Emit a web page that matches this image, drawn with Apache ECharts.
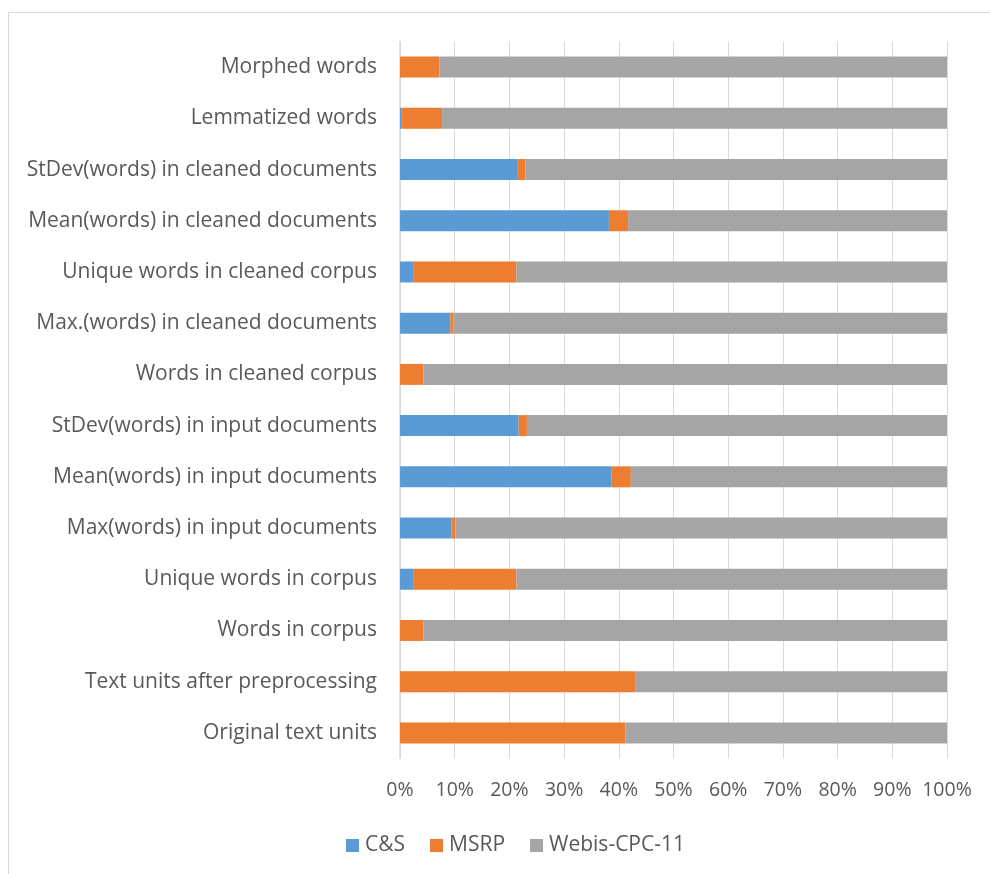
<!DOCTYPE html>
<html>
<head>
<meta charset="utf-8">
<script src="https://cdn.jsdelivr.net/npm/echarts@6/dist/echarts.min.js"></script>
<style>
html,body{margin:0;padding:0;background:#fff;}
#chart{width:990px;height:874px;}
</style>
</head>
<body>
<div id="chart"></div>
<script>
var categories = [
  "Original text units",
  "Text units after preprocessing",
  "Words in corpus",
  "Unique words in corpus",
  "Max(words) in input documents",
  "Mean(words) in input documents",
  "StDev(words) in input documents",
  "Words in cleaned corpus",
  "Max.(words) in cleaned documents",
  "Unique words in cleaned corpus",
  "Mean(words) in cleaned documents",
  "StDev(words) in cleaned documents",
  "Lemmatized words",
  "Morphed words"
];
var csValues    = [0,    0,    0,    2.4,  9.4,  38.7, 21.7, 0,    9.2,  2.4,  38.2, 21.4, 0.2,  0];
var msrpValues  = [41.2, 43.1, 4.3,  18.9, 0.7,  3.5,  1.5,  4.3,  0.6,  18.9, 3.5,  1.5,  7.5,  7.2];
var webisValues = [58.8, 56.9, 95.7, 78.7, 89.9, 57.8, 76.8, 95.7, 90.2, 78.7, 58.3, 77.1, 92.3, 92.8];
var seriesNames = ["C&S", "MSRP", "Webis-CPC-11"];
var xTicks = [0, 10, 20, 30, 40, 50, 60, 70, 80, 90, 100];

var colors = ["#5B9BD5", "#ED7D31", "#A5A5A5"];
var font = "'Open Sans', 'Noto Sans', sans-serif";
var chart = echarts.init(document.getElementById('chart'), null, {renderer: 'canvas'});

function mk(name, data, i) {
  return {
    name: name, type: 'bar', stack: 'total', data: data,
    barWidth: '41%',
    itemStyle: {color: colors[i]},
    emphasis: {disabled: true}
  };
}

chart.setOption({
  animation: false,
  color: colors,
  textStyle: {fontFamily: font},
  graphic: [{
    type: 'rect', silent: true, z: -10,
    shape: {x: 8.5, y: 12.5, width: 1100, height: 1000},
    style: {fill: '#fff', stroke: '#d9d9d9', lineWidth: 1}
  }],
  grid: {left: 400, right: 43, top: 41.5, bottom: 115.5, containLabel: false},
  legend: {
    data: seriesNames,
    left: 341, top: 830,
    icon: 'rect', itemWidth: 13, itemHeight: 13, itemGap: 25,
    textStyle: {fontFamily: font, fontSize: 21, color: '#595959', padding: [0, 0, 0, 1]}
  },
  xAxis: {
    type: 'value', min: xTicks[0], max: xTicks[xTicks.length - 1], interval: 10,
    axisLine: {show: false}, axisTick: {show: false},
    splitLine: {show: true, lineStyle: {color: '#d9d9d9', width: 1}},
    axisLabel: {formatter: '{value}%', fontFamily: font, fontSize: 19.5, color: '#595959', margin: 22}
  },
  yAxis: {
    type: 'category', data: categories,
    axisLine: {show: true, lineStyle: {color: '#d9d9d9', width: 1.5}},
    axisTick: {show: false},
    axisLabel: {fontFamily: font, fontSize: 21, color: '#595959', margin: 23}
  },
  series: [
    mk(seriesNames[0], csValues, 0),
    mk(seriesNames[1], msrpValues, 1),
    mk(seriesNames[2], webisValues, 2)
  ]
});
</script>
</body>
</html>
